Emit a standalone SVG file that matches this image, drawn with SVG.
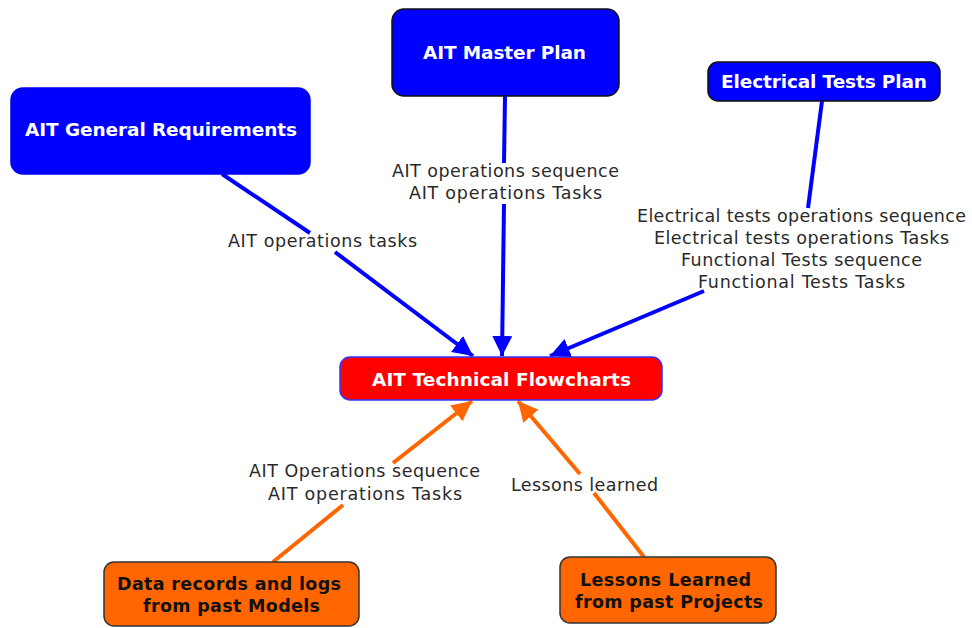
<svg xmlns="http://www.w3.org/2000/svg" width="972" height="628" viewBox="0 0 972 628">
<style>
.node-title{font-family:"DejaVu Sans",Verdana,sans-serif;font-weight:bold;font-size:18.5px;text-anchor:middle;fill:#FFFFFF;}
.node-dark{font-family:"DejaVu Sans",Verdana,sans-serif;font-weight:bold;font-size:17.5px;text-anchor:middle;fill:#111111;}
.lbl{font-family:"DejaVu Sans",Verdana,sans-serif;font-size:17.5px;text-anchor:middle;fill:#2a2a2a;}
.cb{stroke:#0000FF;stroke-width:4;fill:none;}
.co{stroke:#FF6600;stroke-width:4;fill:none;}
</style>
<defs>
<marker id="ab" markerUnits="userSpaceOnUse" markerWidth="22" markerHeight="22" refX="20" refY="10" orient="auto">
<path d="M0,0 L20,10 L0,20 Z" fill="#0000FF"/>
</marker>
<marker id="ao" markerUnits="userSpaceOnUse" markerWidth="22" markerHeight="22" refX="20" refY="10" orient="auto">
<path d="M0,0 L20,10 L0,20 Z" fill="#FF6600"/>
</marker>
</defs>
<rect width="972" height="628" fill="#FFFFFF"/>
<g id="connectors">
<line class="cb" x1="222" y1="174" x2="310" y2="233"/>
<line class="cb" x1="335" y1="252" x2="473" y2="356" marker-end="url(#ab)"/>
<line class="cb" x1="505" y1="96" x2="504" y2="163"/>
<line class="cb" x1="504" y1="204" x2="502" y2="356" marker-end="url(#ab)"/>
<line class="cb" x1="822" y1="101" x2="808" y2="208"/>
<line class="cb" x1="704" y1="291" x2="550" y2="356" marker-end="url(#ab)"/>
<line class="co" x1="273" y1="562" x2="343" y2="505"/>
<line class="co" x1="393" y1="463" x2="472" y2="401" marker-end="url(#ao)"/>
<line class="co" x1="644" y1="557" x2="594" y2="493"/>
<line class="co" x1="580" y1="474" x2="518" y2="401" marker-end="url(#ao)"/>
<text class="lbl" x="322.5" y="247" textLength="189" lengthAdjust="spacing">AIT operations tasks</text>
<text class="lbl" x="505.5" y="177" textLength="227" lengthAdjust="spacing">AIT operations sequence</text>
<text class="lbl" x="505.5" y="199" textLength="193" lengthAdjust="spacing">AIT operations Tasks</text>
<text class="lbl" x="801.5" y="221.5" textLength="329" lengthAdjust="spacing">Electrical tests operations sequence</text>
<text class="lbl" x="801.5" y="243.5" textLength="295" lengthAdjust="spacing">Electrical tests operations Tasks</text>
<text class="lbl" x="801.5" y="266" textLength="241" lengthAdjust="spacing">Functional Tests sequence</text>
<text class="lbl" x="801.5" y="288" textLength="207" lengthAdjust="spacing">Functional Tests Tasks</text>
<text class="lbl" x="364.5" y="477" textLength="231" lengthAdjust="spacing">AIT Operations sequence</text>
<text class="lbl" x="365" y="500" textLength="194" lengthAdjust="spacing">AIT operations Tasks</text>
<text class="lbl" x="584.5" y="491" textLength="147" lengthAdjust="spacing">Lessons learned</text>
</g>
<g id="n-general">
<rect x="11" y="88" width="299" height="86" rx="12" fill="#0000FF" stroke="#0000EE" stroke-width="1.5"/>
<text class="node-title" x="161" y="136" textLength="272" lengthAdjust="spacing">AIT General Requirements</text>
</g>
<g id="n-master">
<rect x="392" y="9" width="227" height="87" rx="12" fill="#0000FF" stroke="#111111" stroke-width="1.5"/>
<text class="node-title" x="504.5" y="59" textLength="163" lengthAdjust="spacing">AIT Master Plan</text>
</g>
<g id="n-electrical">
<rect x="708" y="62" width="232" height="39" rx="10" fill="#0000FF" stroke="#111111" stroke-width="1.5"/>
<text class="node-title" x="824" y="88" textLength="206" lengthAdjust="spacing">Electrical Tests Plan</text>
</g>
<g id="n-flowcharts">
<rect x="340" y="357" width="322" height="43" rx="10" fill="#FF0000" stroke="#3333FF" stroke-width="1.5"/>
<text class="node-title" x="501.5" y="386" textLength="259" lengthAdjust="spacing">AIT Technical Flowcharts</text>
</g>
<g id="n-data">
<rect x="104" y="562" width="255" height="64" rx="10" fill="#FF6600" stroke="#333333" stroke-width="1.5"/>
<text class="node-dark" x="229" y="590" textLength="224" lengthAdjust="spacing">Data records and logs</text>
<text class="node-dark" x="231.5" y="612" textLength="177" lengthAdjust="spacing">from past Models</text>
</g>
<g id="n-lessons">
<rect x="560" y="557" width="216" height="66" rx="10" fill="#FF6600" stroke="#333333" stroke-width="1.5"/>
<text class="node-dark" x="665.5" y="586" textLength="171" lengthAdjust="spacing">Lessons Learned</text>
<text class="node-dark" x="669" y="608" textLength="188" lengthAdjust="spacing">from past Projects</text>
</g>
</svg>
